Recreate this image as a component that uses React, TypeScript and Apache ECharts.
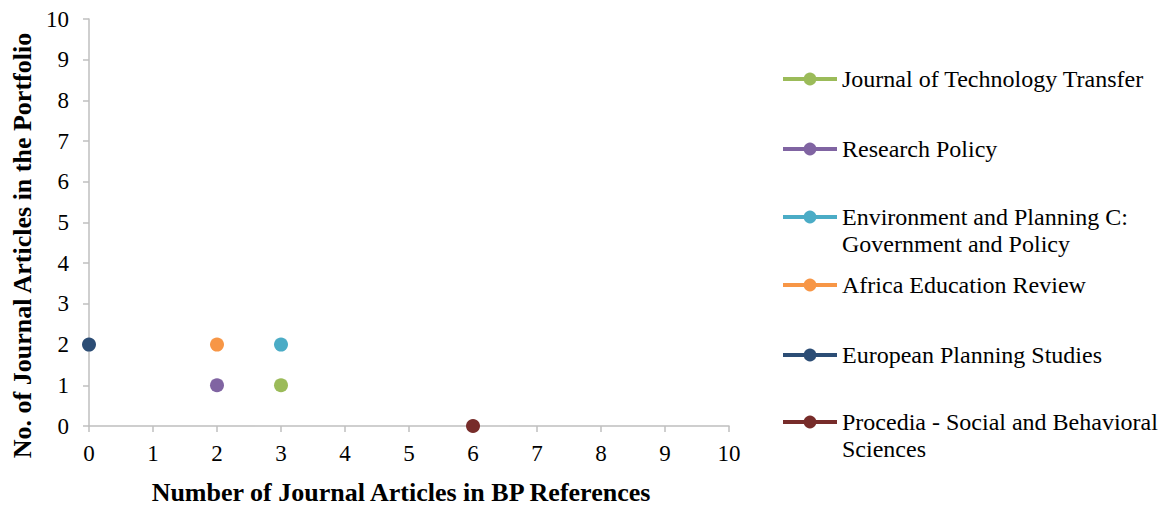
import React, { useEffect, useRef } from "react";
import * as echarts from "echarts";

const seriesNames = [
  "Journal of Technology Transfer",
  "Research Policy",
  "Environment and Planning C: Government and Policy",
  "Africa Education Review",
  "European Planning Studies",
  "Procedia - Social and Behavioral Sciences",
];
const legendLabels = [
  "Journal of Technology Transfer",
  "Research Policy",
  "Environment and Planning C:\nGovernment and Policy",
  "Africa Education Review",
  "European Planning Studies",
  "Procedia - Social and Behavioral\nSciences",
];
const xValues = [3, 2, 3, 2, 0, 6];
const yValues = [1, 1, 2, 2, 2, 0];
const colors = ["#9BBB59", "#8064A2", "#4BACC6", "#F79646", "#2C4D75", "#772C2A"];
const legendCenters = [79, 149, 217, 285, 355, 422];

const FONT = "'Liberation Serif', 'Times New Roman', serif";
const LH = 27;

export default function App() {
  const ref = useRef<HTMLDivElement>(null);
  useEffect(() => {
    if (!ref.current) return;
    const chart = echarts.init(ref.current, undefined, { renderer: "svg" });
    const legends = seriesNames.map((name, i) => {
      const twoLine = legendLabels[i].includes("\n");
      return {
        data: [name],
        orient: "vertical",
        left: 781,
        top: twoLine ? legendCenters[i] - LH * 1.5 : legendCenters[i] - LH / 2,
        padding: 0,
        itemWidth: 54,
        itemHeight: 16,
        formatter: () => (twoLine ? "\n" + legendLabels[i] : legendLabels[i]),
        selectedMode: false,
        lineStyle: { width: 4 },
        textStyle: {
          fontFamily: FONT,
          fontSize: 24,
          color: "#000",
          lineHeight: LH,
        },
      };
    });
    chart.setOption({
      animation: false,
      color: colors,
      grid: { left: 89, right: 435, top: 19, bottom: 81, outerBoundsMode: "none" },
      legend: legends,
      xAxis: {
        type: "value",
        min: 0,
        max: 10,
        interval: 1,
        name: "Number of Journal Articles in BP References",
        nameLocation: "middle",
        nameGap: 53,
        nameTextStyle: {
          fontFamily: FONT,
          fontSize: 26,
          fontWeight: "bold",
          color: "#000",
          padding: [0, 16, 0, 0],
        },
        axisLine: { show: true, lineStyle: { color: "#BFBFBF", width: 1.5 } },
        axisTick: { show: true, length: 6, lineStyle: { color: "#BFBFBF", width: 1.5 } },
        axisLabel: { fontFamily: FONT, fontSize: 23, color: "#000", margin: 16 },
        splitLine: { show: false },
      },
      yAxis: {
        type: "value",
        min: 0,
        max: 10,
        interval: 1,
        name: "No. of Journal Articles in the Portfolio",
        nameLocation: "middle",
        nameGap: 52,
        nameTextStyle: {
          fontFamily: FONT,
          fontSize: 26,
          fontWeight: "bold",
          color: "#000",
          padding: [0, 46, 0, 0],
        },
        axisLine: { show: true, lineStyle: { color: "#BFBFBF", width: 1.5 } },
        axisTick: { show: true, length: 6, lineStyle: { color: "#BFBFBF", width: 1.5 } },
        axisLabel: { fontFamily: FONT, fontSize: 23, color: "#000", margin: 20 },
        splitLine: { show: false },
      },
      series: seriesNames.map((name, i) => ({
        name,
        type: "line",
        data: [[xValues[i], yValues[i]]],
        symbol: "circle",
        symbolSize: 14,
        lineStyle: { width: 4, color: colors[i] },
        itemStyle: { color: colors[i] },
        z: 3,
      })),
    });
    return () => chart.dispose();
  }, []);
  return <div ref={ref} style={{ width: 1164, height: 507, position: "absolute", left: 0, top: 0 }} />;
}
